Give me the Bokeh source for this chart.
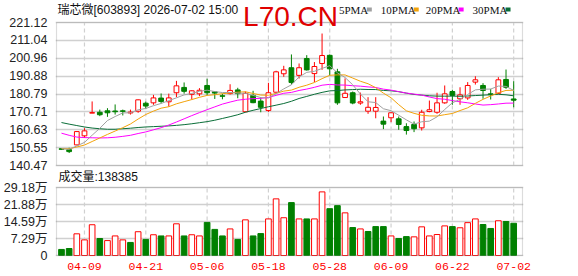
from bokeh.plotting import figure
from bokeh.models import (ColumnDataSource, FixedTicker, Label, Range1d, BoxAnnotation)
from bokeh.embed import file_html
from bokeh.resources import INLINE

# ---------------- data ----------------
dates = ["04-03", "04-07", "04-08", "04-09", "04-10", "04-13", "04-14", "04-15", "04-16", "04-17",
         "04-20", "04-21", "04-22", "04-23", "04-24", "04-27", "04-28", "04-29", "04-30", "05-06",
         "05-07", "05-08", "05-11", "05-12", "05-13", "05-14", "05-15", "05-18", "05-19", "05-20",
         "05-21", "05-22", "05-25", "05-26", "05-27", "05-28", "05-29", "06-01", "06-02", "06-03",
         "06-04", "06-05", "06-08", "06-09", "06-10", "06-11", "06-12", "06-15", "06-16", "06-17",
         "06-18", "06-22", "06-23", "06-24", "06-25", "06-26", "06-29", "06-30", "07-01", "07-02"]

opens = [149.9, 149.4, 152.1, 157.2, 170.0, 170.5, 171.3, 171.2, 171.3, 170.1,
         171.1, 175.6, 175.8, 178.5, 176.4, 181.5, 184.5, 180.6, 180.9, 185.6,
         182.0, 179.8, 181.0, 183.1, 170.8, 180.0, 176.8, 171.5, 181.8, 192.2,
         195.6, 191.3, 200.8, 192.3, 198.0, 202.6, 193.3, 178.8, 181.5, 175.7,
         171.1, 171.1, 165.5, 167.4, 166.8, 162.4, 163.6, 161.7, 170.9, 170.5,
         175.8, 182.2, 178.1, 178.6, 187.5, 185.6, 180.9, 181.2, 189.0, 178.0]
highs = [150.3, 150.5, 159.9, 161.5, 176.6, 172.0, 172.8, 174.9, 172.0, 172.0,
         177.7, 176.5, 180.3, 181.1, 181.0, 188.2, 187.3, 182.9, 184.1, 189.4,
         182.4, 181.0, 186.3, 184.3, 182.2, 182.6, 179.0, 187.1, 193.9, 196.7,
         203.1, 198.0, 202.7, 198.8, 214.9, 203.1, 195.0, 189.6, 182.2, 181.6,
         179.0, 179.0, 168.1, 170.5, 168.1, 164.3, 165.3, 171.9, 177.1, 181.5,
         185.6, 183.2, 184.6, 187.5, 190.8, 186.9, 183.7, 190.3, 194.6, 188.0]
lows = [149.2, 147.5, 151.9, 156.1, 170.0, 168.3, 167.9, 169.2, 168.7, 169.2,
        170.2, 172.4, 174.7, 175.5, 173.7, 179.0, 181.0, 177.7, 179.6, 180.0,
        178.0, 177.8, 180.5, 178.4, 170.5, 175.6, 170.5, 170.7, 181.5, 190.5,
        186.1, 189.5, 194.0, 187.5, 194.4, 191.2, 174.7, 178.6, 175.0, 174.7,
        169.6, 167.1, 161.0, 164.9, 160.6, 157.9, 159.3, 160.2, 170.5, 169.6,
        175.3, 174.7, 174.7, 177.5, 186.1, 178.1, 177.7, 180.9, 183.7, 173.3]
closes = [149.6, 148.3, 159.6, 160.0, 170.3, 169.1, 170.2, 170.8, 171.0, 170.6,
          177.5, 174.0, 178.6, 176.6, 178.6, 185.4, 182.3, 182.6, 182.9, 181.5,
          181.3, 179.5, 182.8, 181.0, 181.2, 175.9, 173.3, 181.5, 193.3, 194.4,
          187.3, 195.6, 194.4, 196.3, 202.5, 195.0, 175.8, 181.2, 175.7, 176.4,
          173.3, 173.2, 163.8, 170.2, 163.6, 160.2, 161.2, 170.5, 171.9, 175.8,
          180.9, 180.0, 180.3, 185.6, 188.8, 182.8, 180.4, 188.8, 184.6, 177.3]
prev_close = 150.3  # close of the day before the first bar

ma5 = [149.9, 149.6, 151.5, 153.5, 157.56, 161.46, 165.84, 168.08, 170.14, 170.2,
       171.88, 172.64, 174.2, 175.46, 177.06, 178.64, 180.3, 181.1, 182.36, 182.94,
       182.18, 181.62, 181.66, 181.28, 181.16, 180.02, 178.78, 178.52, 180.98, 183.68,
       185.96, 190.42, 193.0, 193.6, 195.22, 196.76, 192.74, 190.1, 185.98, 180.76,
       176.42, 175.96, 172.48, 171.38, 168.82, 166.2, 163.8, 165.14, 165.48, 167.92,
       172.06, 175.82, 177.78, 180.52, 183.12, 183.5, 183.58, 185.28, 185.08, 182.78]
ma10 = [150.0, 149.9, 150.9, 152.0, 154.0, 156.0, 158.0, 159.9, 161.8, 163.88,
        166.67, 169.24, 171.14, 172.80, 173.63, 175.26, 176.47, 177.65, 178.91, 180.0,
        180.41, 180.96, 181.38, 181.82, 182.05, 181.1, 180.2, 180.09, 181.13, 182.42,
        182.99, 184.6, 185.76, 187.29, 189.45, 191.36, 191.58, 191.55, 189.79, 187.99,
        186.59, 184.35, 181.29, 178.68, 174.79, 171.31, 169.88, 168.81, 168.43, 168.37,
        169.13, 169.81, 171.46, 173.0, 175.52, 177.78, 179.7, 181.53, 182.8, 182.95]
ma20 = [158.7, 157.5, 156.5, 156.2, 156.1, 156.0, 156.1, 156.4, 156.9, 157.5,
        158.5, 159.4, 160.6, 161.8, 163.3, 165.0, 166.8, 168.6, 170.3, 171.94,
        173.54, 175.10, 176.26, 177.31, 177.84, 178.18, 178.34, 178.87, 180.02, 181.21,
        181.70, 182.78, 183.57, 184.56, 185.75, 186.23, 185.89, 185.82, 185.46, 185.21,
        184.79, 184.48, 183.53, 182.99, 182.12, 181.34, 180.73, 180.18, 179.11, 178.18,
        177.86, 177.08, 176.38, 175.84, 175.16, 174.55, 174.79, 175.17, 175.62, 175.66]
ma30 = [164.7, 163.8, 163.0, 162.2, 161.6, 161.2, 160.9, 160.9, 161.2, 161.5,
        161.9, 162.2, 162.4, 162.6, 162.8, 163.1, 163.5, 164.0, 164.6, 165.2,
        166.0, 167.0, 168.0, 169.1, 170.5, 171.6, 172.6, 173.6, 174.5, 175.43,
        176.69, 178.27, 179.43, 180.64, 181.71, 182.57, 182.75, 183.10, 183.28, 183.47,
        183.33, 183.30, 182.81, 182.60, 182.10, 181.26, 180.55, 180.15, 179.78, 179.59,
        179.57, 179.59, 179.50, 179.66, 179.92, 180.15, 180.39, 180.63, 180.34, 179.77]

volume_wan = [2.6, 3.0, 9.3, 6.7, 13.2, 7.3, 6.4, 8.4, 6.7, 5.6,
              10.2, 6.9, 8.9, 8.4, 8.4, 13.6, 8.4, 8.9, 8.4, 14.2,
              11.2, 8.4, 11.4, 6.9, 15.3, 8.4, 9.4, 15.7, 24.3, 16.2,
              22.7, 15.7, 15.7, 15.7, 27.3, 20.1, 21.4, 18.3, 12.0, 11.4,
              10.3, 12.4, 12.4, 8.4, 7.3, 8.1, 8.0, 12.3, 8.4, 9.0,
              12.7, 12.4, 11.9, 14.1, 15.7, 13.3, 11.6, 14.9, 14.6, 13.8385]
last_volume = "138385"

price_ticks = [140.47, 150.55, 160.63, 170.71, 180.79, 190.88, 200.96, 211.04, 221.12]
vol_ticks = [0, 7.29, 14.59, 21.88, 29.18]
vol_tick_labels = ["0", "7.29万", "14.59万", "21.88万", "29.18万"]
date_tick_idx = [3, 11, 19, 27, 35, 43, 51, 59]

title_text = "瑞芯微[603893] 2026-07-02 15:00"
ma_names = ["5PMA", "10PMA", "20PMA", "30PMA"]
watermark = "L70.CN"

# ---------------- layout constants (pixels) ----------------
W, H = 578, 276
BOX_L, BOX_R = 55, 522          # panel boxes, left/right edges
P_TOP, P_BOT = 22, 165          # price panel top/bottom
V_TOP, V_BOT = 187, 255         # volume panel top/bottom
F_L, F_R, F_T, F_B = 54, 523, 0, 256   # plotting frame
XB0, XB1 = -0.65, 60.15         # x data at box edges

kx = (XB1 - XB0) / (BOX_R - BOX_L)
kp = (price_ticks[-1] - price_ticks[0]) / (P_BOT - P_TOP)
kv = (vol_ticks[-1] - vol_ticks[0]) / (V_BOT - V_TOP)


def dx(px):
    return XB0 + (px - BOX_L) * kx


def dy(py):  # pixel row -> price coordinate (main y range)
    return price_ticks[-1] - (py - P_TOP) * kp


def vy(py):  # pixel row -> volume coordinate
    return (V_BOT - py) * kv


# ---------------- styling ----------------
RED = "#ff0000"
GREEN = "#008000"
MA_COLORS = ["#a0a0a0", "#f2a20a", "#ff00ff", "#0a6e38"]
BORDER = "#8c8c8c"
GRID = "#d0d0d0"
LABEL_FONT = "Liberation Sans, Noto Sans CJK SC"

n = len(closes)
xs = list(range(n))
up = [c >= o for o, c in zip(opens, closes)]
prevs = [prev_close] + closes[:-1]
vol_up = [c >= p for c, p in zip(closes, prevs)]

src = ColumnDataSource(dict(
    x=xs, high=highs, low=lows,
    top=[max(o, c) for o, c in zip(opens, closes)],
    bottom=[min(o, c) for o, c in zip(opens, closes)],
    color=[RED if u else GREEN for u in up],
    fill=["white" if u else GREEN for u in up],
    ma5=ma5, ma10=ma10, ma20=ma20, ma30=ma30,
    vol=volume_wan,
    vcolor=[RED if u else GREEN for u in vol_up],
    vfill=["white" if u else GREEN for u in vol_up],
))

p = figure(width=W, height=H,
           x_range=Range1d(dx(F_L), dx(F_R)), y_range=Range1d(dy(F_B), dy(F_T)),
           output_backend="svg", toolbar_location=None, title=None,
           min_border_left=F_L, min_border_right=W - F_R, min_border_top=F_T, min_border_bottom=H - F_B)
p.extra_y_ranges = {"vol": Range1d(vy(F_B), vy(F_T))}
p.background_fill_color = "white"
p.border_fill_color = "white"
p.outline_line_color = None

# left axis: price ticks + volume ticks (volume ticks mapped into the main scale)
vol_tick_pos = [dy(V_BOT - v / kv) for v in vol_ticks]
all_ticks = price_ticks + vol_tick_pos
overrides = {t: "%.2f" % t for t in price_ticks}
overrides.update({t: s for t, s in zip(vol_tick_pos, vol_tick_labels)})
ya = p.yaxis[0]
ya.ticker = FixedTicker(ticks=all_ticks)
ya.major_label_overrides = overrides
ya.axis_line_color = None
ya.major_tick_line_color = None
ya.minor_tick_line_color = None
ya.major_label_standoff = 2
ya.major_label_text_font = LABEL_FONT
ya.major_label_text_font_size = "12.5px"
ya.major_label_text_color = "#222222"

xa = p.xaxis[0]
xa.ticker = FixedTicker(ticks=date_tick_idx)
xa.major_label_overrides = {i: dates[i] for i in date_tick_idx}
xa.axis_line_color = None
xa.major_tick_line_color = None
xa.minor_tick_line_color = None
xa.major_label_standoff = 0
xa.major_label_text_font = "Liberation Mono"
xa.major_label_text_font_size = "11.5px"
xa.major_label_text_color = RED

p.xgrid.visible = False
p.ygrid.ticker = FixedTicker(ticks=all_ticks)
p.ygrid.grid_line_color = GRID
p.ygrid.grid_line_width = 1.3

# vertical dashed grid lines, limited to each panel
p.segment(x0=date_tick_idx, y0=[price_ticks[0]] * len(date_tick_idx),
          x1=date_tick_idx, y1=[price_ticks[-1]] * len(date_tick_idx),
          line_color=GRID, line_dash="4 3", line_width=1.2)
p.segment(x0=date_tick_idx, y0=[vol_ticks[0]] * len(date_tick_idx),
          x1=date_tick_idx, y1=[vol_ticks[-1]] * len(date_tick_idx),
          line_color=GRID, line_dash="4 3", line_width=1.2, y_range_name="vol")

# candles
p.segment(x0="x", y0="high", x1="x", y1="low", line_color="color", line_width=1, source=src)
p.vbar(x="x", width=0.62, top="top", bottom="bottom", fill_color="fill", line_color="color",
       line_width=1, source=src)
for col, c in zip(["ma30", "ma20", "ma10", "ma5"], MA_COLORS[::-1]):
    p.line(x="x", y=col, line_color=c, line_width=1, source=src)

# volume
p.vbar(x="x", width=0.74, top="vol", bottom=0, fill_color="vfill", line_color="vcolor",
       line_width=1, source=src, y_range_name="vol")

# panel boxes
p.add_layout(BoxAnnotation(left=XB0, right=XB1, bottom=price_ticks[0], top=price_ticks[-1],
                           fill_color=None, line_color=BORDER, line_width=1.2))
p.add_layout(BoxAnnotation(left=XB0, right=XB1, bottom=vol_ticks[0], top=vol_ticks[-1],
                           fill_color=None, line_color=BORDER, line_width=1.2, y_range_name="vol"))

# header texts
p.add_layout(Label(x=dx(56), y=dy(9), text=title_text, text_font=LABEL_FONT,
                   text_font_size="12px", text_color="#111111", text_baseline="middle"))
p.add_layout(Label(x=dx(242), y=dy(16), text=watermark, text_font="Liberation Sans",
                   text_font_size="28px", text_color="#e00000", text_baseline="middle"))
leg_x = [338, 380, 425, 472]
sq_x = [366, 413, 458, 505]
for name, c, tx, sx in zip(ma_names, MA_COLORS, leg_x, sq_x):
    p.add_layout(Label(x=dx(tx), y=dy(9), text=name, text_font="Liberation Serif",
                       text_font_size="11px", text_color="#111111", text_baseline="middle"))
    p.add_layout(BoxAnnotation(left=dx(sx), right=dx(sx + 5), top=dy(7), bottom=dy(11),
                               fill_color=c, fill_alpha=1, line_color=None))
p.add_layout(Label(x=dx(57), y=dy(176.5), text="成交量:" + last_volume, text_font=LABEL_FONT,
                   text_font_size="12px", text_color="#111111", text_baseline="middle"))

open("out.html", "w").write(file_html(p, INLINE))
